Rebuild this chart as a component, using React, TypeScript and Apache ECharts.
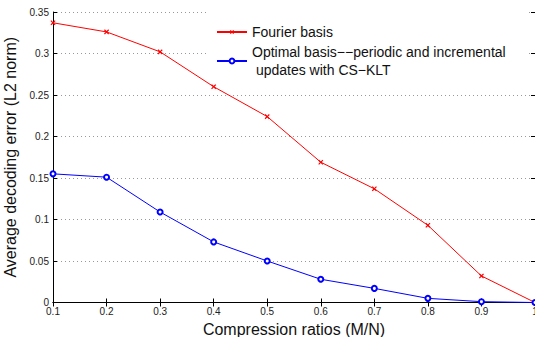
import React, { useEffect, useRef } from "react";
import * as echarts from "echarts";

const ratios = [0.1, 0.2, 0.3, 0.4, 0.5, 0.6, 0.7, 0.8, 0.9, 1.0];
const fourierError = [0.337, 0.326, 0.302, 0.26, 0.224, 0.169, 0.137, 0.093, 0.032, 0.0];
const optimalError = [0.155, 0.151, 0.109, 0.073, 0.05, 0.028, 0.017, 0.005, 0.001, 0.0];

const seriesNames = [
  "Fourier basis",
  "Optimal basis\u2212\u2212periodic and incremental\n updates with CS\u2212KLT",
];

const FONT = "'Liberation Sans', Arial, Helvetica, sans-serif";
const crossPath = "path://M4,0H6V4H10V6H6V10H4V6H0V4H4Z";

export default function App() {
  const ref = useRef<HTMLDivElement>(null);
  useEffect(() => {
    if (!ref.current) return;
    const chart = echarts.init(ref.current, null, { renderer: "svg" });
    const fmt = (v: number) => String(Math.round(v * 100) / 100);
    const axisLabel = { fontFamily: FONT, fontSize: 10, color: "#222" };
    chart.setOption({
      animation: false,
      backgroundColor: "#fff",
      textStyle: { fontFamily: FONT },
      grid: {
        left: 53,
        right: 0,
        top: 12,
        bottom: 34.5,
        containLabel: false,
        outerBoundsMode: "none",
      },
      legend: {
        orient: "vertical",
        left: 206,
        top: 12,
        padding: [11, 22, 2, 10],
        backgroundColor: "#fff",
        itemWidth: 30,
        itemHeight: 6,
        itemGap: 2,
        textStyle: { fontFamily: FONT, fontSize: 14, color: "#111", lineHeight: 18 },
        data: seriesNames,
      },
      xAxis: [
        {
          type: "value",
          min: 0.1,
          max: 1.0,
          interval: 0.1,
          position: "bottom",
          name: "Compression ratios (M/N)",
          nameLocation: "middle",
          nameGap: 16,
          nameTextStyle: { fontFamily: FONT, fontSize: 16, color: "#111" },
          axisLine: { show: true, lineStyle: { color: "#000", width: 1 } },
          axisTick: { show: true, inside: true, length: 4, lineStyle: { color: "#000" } },
          axisLabel: { ...axisLabel, margin: 4, formatter: fmt },
          splitLine: { show: false },
        },
        {
          type: "value",
          min: 0.1,
          max: 1.0,
          interval: 0.1,
          position: "top",
          axisLine: { show: true, lineStyle: { color: "#000", width: 1 } },
          axisTick: { show: true, inside: true, length: 4, lineStyle: { color: "#000" } },
          axisLabel: { show: false },
          splitLine: { show: false },
        },
      ],
      yAxis: [
        {
          type: "value",
          min: 0,
          max: 0.35,
          interval: 0.05,
          position: "left",
          name: "Average decoding error (L2 norm)",
          nameLocation: "middle",
          nameGap: 26,
          nameTextStyle: { fontFamily: FONT, fontSize: 16, color: "#111" },
          axisLine: { show: true, lineStyle: { color: "#000", width: 1 } },
          axisTick: { show: true, inside: true, length: 4, lineStyle: { color: "#000" } },
          axisLabel: { ...axisLabel, margin: 4, formatter: fmt },
          splitLine: {
            show: true,
            lineStyle: { color: "#999", type: [1, 3], width: 1 },
          },
        },
        {
          type: "value",
          min: 0,
          max: 0.35,
          interval: 0.05,
          position: "right",
          axisLine: { show: true, lineStyle: { color: "#000", width: 1 } },
          axisTick: { show: true, inside: true, length: 4, lineStyle: { color: "#000" } },
          axisLabel: { show: false },
          splitLine: { show: false },
        },
      ],
      series: [
        {
          name: seriesNames[0],
          type: "line",
          data: ratios.map((x, i) => [x, fourierError[i]]),
          symbol: crossPath,
          symbolSize: 6,
          symbolRotate: 45,
          lineStyle: { color: "#ff0000", width: 1 },
          itemStyle: { color: "#ff0000" },
          z: 3,
        },
        {
          name: seriesNames[1],
          type: "line",
          data: ratios.map((x, i) => [x, optimalError[i]]),
          symbol: "emptyCircle",
          symbolSize: 5,
          lineStyle: { color: "#0000ff", width: 1 },
          itemStyle: { color: "#0000ff", borderColor: "#0000ff", borderWidth: 1 },
          z: 4,
        },
      ],
    });
    return () => chart.dispose();
  }, []);
  return (
    <div
      ref={ref}
      style={{ position: "fixed", left: 0, top: 0, width: 535, height: 337 }}
    />
  );
}
